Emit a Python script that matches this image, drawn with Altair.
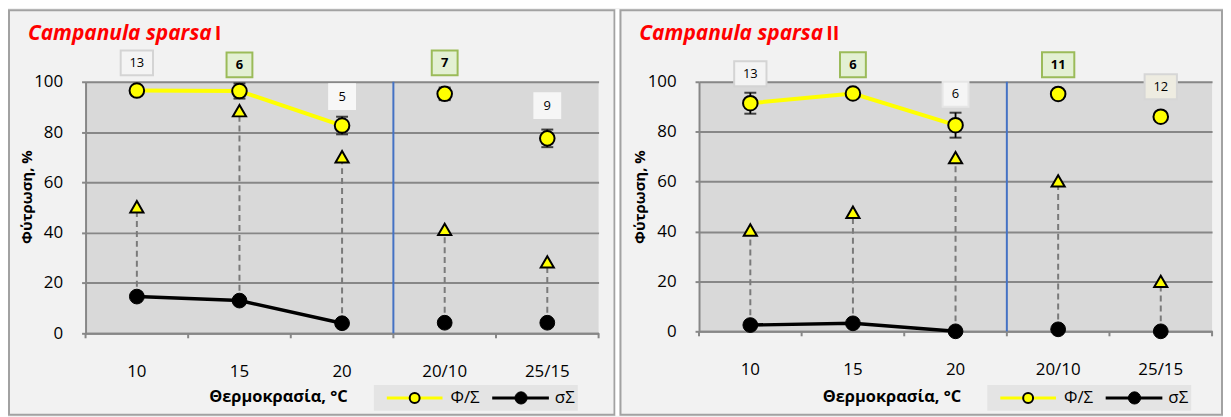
import altair as alt
import pandas as pd

# ---------------- data ----------------
categories = ["10", "15", "20", "20/10", "25/15"]
connected = [True, True, True, False, False]
y_ticks = [0, 20, 40, 60, 80, 100]

phi_I = [96.5, 96.3, 82.6, 95.2, 77.5]
phi_err_I = [1.5, 3.0, 3.5, 2.5, 3.5]
tri_I = [50.3, 88.5, 70.2, 41.3, 28.4]
sig_I = [14.6, 13.0, 4.0, 4.2, 4.2]
n_I = ["13", "6", "5", "7", "9"]
n_level_I = [107.5, 106.7, 94.1, 107.5, 90.5]
n_bold_I = [False, True, False, True, False]
box_fill_I = ["#f4f4f4", "#e3f0d3", "#f7f7f7", "#e3f0d3", "#f6f6f6"]
box_stroke_I = ["#d4d4d4", "#9bbb59", "#f7f7f7", "#9bbb59", "#f6f6f6"]

phi_II = [91.4, 95.3, 82.6, 95.1, 86.0]
phi_err_II = [4.2, 1.5, 5.0, 1.5, 1.5]
tri_II = [40.6, 47.7, 69.6, 60.3, 20.0]
sig_II = [2.5, 3.2, 0.0, 0.8, 0.0]
n_II = ["13", "6", "6", "11", "12"]
n_level_II = [103.2, 106.8, 95.0, 106.8, 98.0]
n_bold_II = [False, True, False, True, False]
box_fill_II = ["#f4f4f4", "#e3f0d3", "#f5f5f5", "#e3f0d3", "#eeece1"]
box_stroke_II = ["#d4d4d4", "#9bbb59", "#e6e6e6", "#9bbb59", "#d6d6d6"]

GRID = "#878787"
FONT = "Open Sans"
BOX1 = "M-1.04,-1H1.04V1H-1.04Z"
BOX2 = "M-1.3,-1H1.3V1H-1.3Z"


def one():
    return pd.DataFrame({"k": [0]})


def panel(suffix, suffix_x, title_x, phi, err, tri, sig, n, level, bold,
          fills, strokes, H, frame_left, frame_right, gap):
    W = 516
    df = pd.DataFrame({
        "cat": categories,
        "idx": list(range(len(categories))),
        "phi": phi,
        "lo": [p - e for p, e in zip(phi, err)],
        "hi": [p + e for p, e in zip(phi, err)],
        "tri": tri,
        "sig": sig,
        "n": n,
        "level": level,
        "bold": bold,
        "fill": fills,
        "stroke": strokes,
        "shape": [BOX2 if len(s) > 1 else BOX1 for s in n],
        "conn": connected,
    })

    xscale = alt.Scale(domain=categories, paddingInner=0, paddingOuter=0)
    xaxis = alt.Axis(title=None, labelAngle=0, ticks=False, labelPadding=30,
                     domainColor=GRID, domainWidth=2, labelFontSize=17,
                     labelFont=FONT, labelColor="#000000", grid=False)
    yscale = alt.Scale(domain=[0, 100], nice=False, zero=True)
    yaxis = alt.Axis(values=y_ticks, title=None, grid=True, gridColor=GRID,
                     gridWidth=2, domainColor=GRID, domainWidth=2,
                     tickColor=GRID, tickSize=4, tickWidth=2, labelPadding=19,
                     labelFontSize=17, labelFont=FONT, labelColor="#000000")

    def X(**kw):
        return alt.X("cat:N", scale=xscale, axis=xaxis, **kw)

    def Y(field):
        return alt.Y(f"{field}:Q", scale=yscale, axis=yaxis)

    base = alt.Chart(df)
    layers = []

    # panel frame
    layers.append(alt.Chart(one()).mark_rect(
        fillOpacity=0, stroke="#a2a2a2", strokeWidth=2).encode(
        x=alt.value(frame_left), x2=alt.value(frame_right),
        y=alt.value(-72), y2=alt.value(335)))
    if gap:
        layers.append(alt.Chart(one()).mark_rect(fill="#ffffff").encode(
            x=alt.value(frame_right + 1), x2=alt.value(frame_right + 5),
            y=alt.value(-73), y2=alt.value(336)))

    # axis (grid) carrier layer
    layers.append(base.mark_point(opacity=0).encode(x=X(), y=Y("phi")))

    # category boundary ticks
    layers.append(base.mark_rule(color=GRID, strokeWidth=2).encode(
        x=X(bandPosition=0), y=alt.value(H), y2=alt.value(H + 5)))
    layers.append(base.transform_filter(alt.datum.idx == 4).mark_rule(
        color=GRID, strokeWidth=2).encode(
        x=X(bandPosition=1), y=alt.value(H), y2=alt.value(H + 5)))

    # blue separator between constant and alternating temperatures
    layers.append(base.transform_filter(alt.datum.idx == 3).mark_rule(
        color="#4472c4", strokeWidth=2).encode(
        x=X(bandPosition=0), y=alt.value(0), y2=alt.value(H)))

    # drop lines
    layers.append(base.mark_rule(color="#7a7a7a", strokeWidth=2,
                                 strokeDash=[6, 4]).encode(
        x=X(), y=Y("sig"), y2="tri:Q"))

    # connecting lines
    conn = base.transform_filter(alt.datum.conn)
    layers.append(conn.mark_line(color="#ffff00", strokeWidth=4).encode(
        x=X(), y=Y("phi"), order="idx:Q"))
    layers.append(conn.mark_line(color="#000000", strokeWidth=3.5).encode(
        x=X(), y=Y("sig"), order="idx:Q"))

    # error bars
    layers.append(base.mark_rule(color="#000000", strokeWidth=1.8).encode(
        x=X(), y=Y("lo"), y2="hi:Q"))
    layers.append(base.mark_tick(color="#000000", size=12, thickness=2).encode(
        x=X(), y=Y("lo")))
    layers.append(base.mark_tick(color="#000000", size=12, thickness=2).encode(
        x=X(), y=Y("hi")))

    # points
    layers.append(base.mark_point(shape="circle", filled=True, fill="#000000",
                                  stroke="#000000", strokeWidth=1, size=220,
                                  opacity=1).encode(x=X(), y=Y("sig")))
    layers.append(base.mark_point(shape="triangle-up", filled=True,
                                  fill="#ffff00", stroke="#000000",
                                  strokeWidth=2, size=175, opacity=1).encode(
        x=X(), y=Y("tri")))
    layers.append(base.mark_point(shape="circle", filled=True, fill="#ffff00",
                                  stroke="#000000", strokeWidth=2, size=215,
                                  opacity=1).encode(x=X(), y=Y("phi")))

    # n boxes
    layers.append(base.mark_point(filled=True, size=625, opacity=1,
                                  strokeWidth=2).encode(
        x=X(), y=Y("level"),
        shape=alt.Shape("shape:N", scale=None),
        fill=alt.Fill("fill:N", scale=None),
        stroke=alt.Stroke("stroke:N", scale=None)))
    layers.append(base.transform_filter(~alt.datum.bold).mark_text(
        font=FONT, fontSize=13, color="#000000", baseline="middle").encode(
        x=X(), y=Y("level"), text="n:N"))
    layers.append(base.transform_filter(alt.datum.bold).mark_text(
        font=FONT, fontSize=13, fontWeight="bold", color="#000000",
        baseline="middle").encode(x=X(), y=Y("level"), text="n:N"))

    # titles
    layers.append(alt.Chart(one()).mark_text(
        font=FONT, fontSize=21, fontStyle="italic", fontWeight="bold",
        color="#ff0000", align="left", baseline="alphabetic").encode(
        x=alt.value(title_x), y=alt.value(-42),
        text=alt.value("Campanula sparsa")))
    layers.append(alt.Chart(one()).mark_text(
        font=FONT, fontSize=20, fontWeight="bold", color="#ff0000",
        align="left", baseline="alphabetic").encode(
        x=alt.value(suffix_x), y=alt.value(-42), text=alt.value(suffix)))
    layers.append(alt.Chart(one()).mark_text(
        font=FONT, fontSize=15, fontWeight="bold", color="#000000",
        angle=270, align="center", baseline="middle").encode(
        x=alt.value(-59), y=alt.value(116), text=alt.value("Φύτρωση, %")))
    layers.append(alt.Chart(one()).mark_text(
        font=FONT, fontSize=16.5, fontWeight="bold", color="#000000",
        align="center", baseline="middle").encode(
        x=alt.value(194), y=alt.value(317),
        text=alt.value("Θερμοκρασία, °C")))

    # legend
    layers.append(alt.Chart(one()).mark_rect(fill="#e4e4e4").encode(
        x=alt.value(290), x2=alt.value(495), y=alt.value(305),
        y2=alt.value(331)))
    layers.append(alt.Chart(one()).mark_rule(color="#ffff00",
                                             strokeWidth=3).encode(
        x=alt.value(303), x2=alt.value(359), y=alt.value(318)))
    layers.append(alt.Chart(one()).mark_point(
        shape="circle", filled=True, fill="#ffff00", stroke="#000000",
        strokeWidth=2, size=100, opacity=1).encode(
        x=alt.value(331), y=alt.value(318)))
    layers.append(alt.Chart(one()).mark_text(
        font=FONT, fontSize=17, color="#000000", align="left",
        baseline="middle").encode(
        x=alt.value(367), y=alt.value(318), text=alt.value("Φ/Σ")))
    layers.append(alt.Chart(one()).mark_rule(color="#000000",
                                             strokeWidth=3).encode(
        x=alt.value(409), x2=alt.value(466), y=alt.value(318)))
    layers.append(alt.Chart(one()).mark_point(
        shape="circle", filled=True, fill="#000000", stroke="#000000",
        strokeWidth=1, size=150, opacity=1).encode(
        x=alt.value(438), y=alt.value(318)))
    layers.append(alt.Chart(one()).mark_text(
        font=FONT, fontSize=17, color="#000000", align="left",
        baseline="middle").encode(
        x=alt.value(472), y=alt.value(318), text=alt.value("σΣ")))

    return alt.layer(*layers).properties(width=W, height=H)


left = panel("I", 130, -58, phi_I, phi_err_I, tri_I, sig_I, n_I, n_level_I,
             n_bold_I, box_fill_I, box_stroke_I, 253, -77, 532, True)
right = panel("II", 128, -60, phi_II, phi_err_II, tri_II, sig_II, n_II,
              n_level_II, n_bold_II, box_fill_II, box_stroke_II, 251, -79,
              526, False)

chart = alt.hconcat(left, right, spacing=0).resolve_scale(
    x="independent", y="independent").configure(
    background="#f2f2f2", padding=0).configure_view(
    stroke=None, fill="#d9d9d9")

chart.save("out.html", embed_options={"renderer": "svg", "actions": False})
